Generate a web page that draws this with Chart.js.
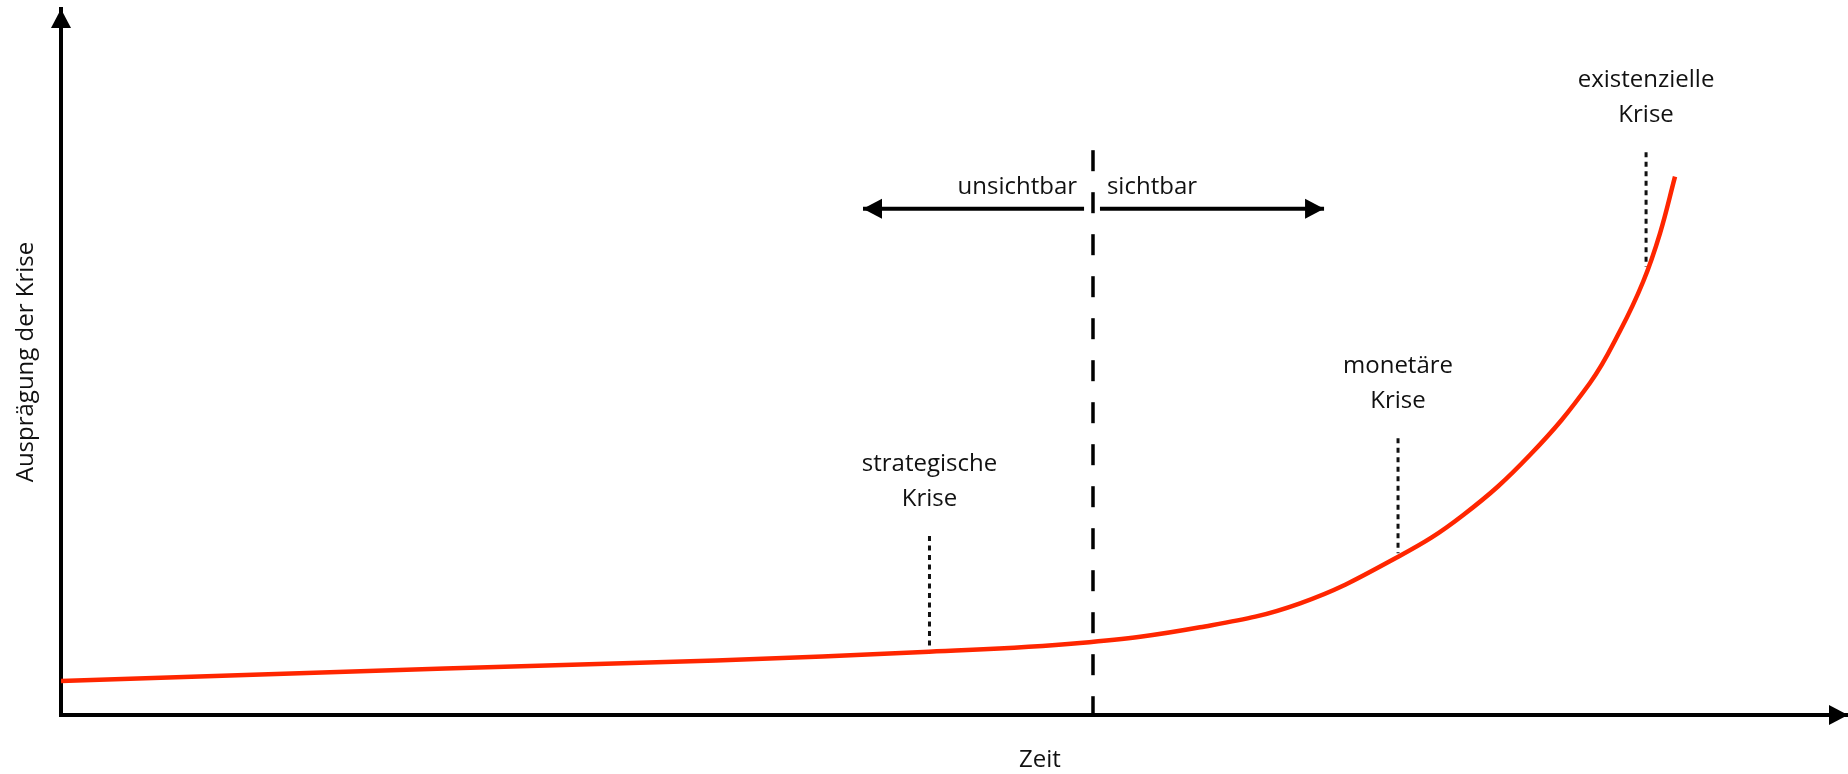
<!DOCTYPE html>
<html>
<head>
<meta charset="utf-8">
<script src="https://cdn.jsdelivr.net/npm/chart.js@4.4.1/dist/chart.umd.min.js"></script>
<style>
  html, body { margin: 0; padding: 0; background: #fff; }
  #wrap { width: 1848px; height: 774px; }
</style>
</head>
<body>
<div id="wrap"><canvas id="krisenChart"></canvas></div>
<script>
// Krisenverlauf (x: Zeit, y: Ausprägung), 0..100 auf beiden Achsen
const zeitWerte  = [0, 21.49, 36.65, 48.57, 57.02, 63.74, 69.34, 74.83, 78.47, 82.2, 85.56, 87.24, 88.54, 89.48, 90.32];
const kriseWerte = [4.82, 6.59, 7.72, 8.95, 10.2, 12.42, 15.82, 22.42, 28.33, 36.83, 47.03, 54.39, 61.4, 68.23, 76.25];

// Krisenarten mit gepunkteter Markierung
const phasenNamen = [["strategische", "Krise"], ["monetäre", "Krise"], ["existenzielle", "Krise"]];
const phasenX     = [48.6, 74.82, 88.7];
const phasenVon   = [9.35, 22.9, 63.5];
const phasenBis   = [25.35, 39.2, 79.7];
const phasenTextY = [34.63, 48.51, 88.9];

// Grenze zwischen unsichtbar / sichtbar
const grenzeX = 57.75;
const grenzeBis = 80;
const pfeilY = 71.7;
const pfeilLinks  = [44.88, 57.25];
const pfeilRechts = [58.14, 70.68];
const grenzeText = ["unsichtbar", "sichtbar"];
const grenzeTextX = [56.86, 58.53];
const grenzeTextY = 73.82;

const zeitTitelX = 54.78;

const schrift = '"Open Sans", "DejaVu Sans", sans-serif';
const rot = '#ff2600';

function spitze(ctx, x, y, winkel) {
  ctx.save();
  ctx.translate(x, y);
  ctx.rotate(winkel);
  ctx.beginPath();
  ctx.moveTo(0, 0);
  ctx.lineTo(-19, -10);
  ctx.lineTo(-19, 10);
  ctx.closePath();
  ctx.fill();
  ctx.restore();
}

const dekoPlugin = {
  id: 'krisenDeko',
  afterDraw(chart) {
    const ctx = chart.ctx;
    const xs = chart.scales.x, ys = chart.scales.y;
    const area = chart.chartArea;
    ctx.save();
    ctx.fillStyle = '#000';
    // Achsenpfeile
    spitze(ctx, area.left, area.top, -Math.PI / 2);
    spitze(ctx, area.right, area.bottom, 0);
    // Pfeile unsichtbar / sichtbar
    chart.data.datasets.forEach((ds, i) => {
      const pts = chart.getDatasetMeta(i).data;
      if (ds.pfeilAnfang) spitze(ctx, pts[0].x, pts[0].y, Math.PI);
      if (ds.pfeilEnde) spitze(ctx, pts[pts.length - 1].x, pts[pts.length - 1].y, 0);
    });
    // Beschriftungen
    ctx.fillStyle = '#111';
    ctx.font = '24px ' + schrift;
    ctx.textBaseline = 'alphabetic';
    ctx.textAlign = 'center';
    phasenNamen.forEach((zeilen, i) => {
      const px = xs.getPixelForValue(phasenX[i]);
      const py = ys.getPixelForValue(phasenTextY[i]);
      zeilen.forEach((z, j) => ctx.fillText(z, px, py + j * 35));
    });
    ctx.textAlign = 'right';
    ctx.fillText(grenzeText[0], xs.getPixelForValue(grenzeTextX[0]), ys.getPixelForValue(grenzeTextY));
    ctx.textAlign = 'left';
    ctx.fillText(grenzeText[1], xs.getPixelForValue(grenzeTextX[1]), ys.getPixelForValue(grenzeTextY));
    ctx.textAlign = 'center';
    ctx.fillText('Zeit', xs.getPixelForValue(zeitTitelX), area.bottom + 52);
    ctx.restore();
  }
};

const linie = (pts, extra) => Object.assign({
  data: pts,
  borderColor: '#000',
  pointRadius: 0,
  fill: false
}, extra);

const datasets = [
  linie(zeitWerte.map((x, i) => ({ x, y: kriseWerte[i] })), {
    label: 'Krisenverlauf', borderColor: rot, borderWidth: 4.5, tension: 0.4
  }),
  linie([{ x: grenzeX, y: grenzeBis }, { x: grenzeX, y: 0 }], { borderWidth: 3.5, borderDash: [21, 21] }),
  ...phasenX.map((x, i) => linie([{ x, y: phasenBis[i] }, { x, y: phasenVon[i] }], {
    borderColor: '#111', borderWidth: 3, borderDash: [5, 4.5]
  })),
  linie([{ x: pfeilLinks[0], y: pfeilY }, { x: pfeilLinks[1], y: pfeilY }], { borderWidth: 4, pfeilAnfang: true }),
  linie([{ x: pfeilRechts[0], y: pfeilY }, { x: pfeilRechts[1], y: pfeilY }], { borderWidth: 4, pfeilEnde: true })
];

new Chart(document.getElementById('krisenChart'), {
  type: 'line',
  data: { datasets },
  options: {
    responsive: true,
    maintainAspectRatio: false,
    animation: false,
    layout: { padding: { left: 12, top: 9, right: 0, bottom: 2 } },
    plugins: { legend: { display: false }, tooltip: { enabled: false } },
    scales: {
      x: {
        type: 'linear', min: 0, max: 100,
        grid: { display: false },
        ticks: { display: false },
        border: { display: true, color: '#000', width: 4 },
        afterFit: s => { s.height = 57; }
      },
      y: {
        type: 'linear', min: 0, max: 100,
        grid: { display: false },
        ticks: { display: false },
        border: { display: true, color: '#000', width: 4 },
        title: {
          display: true, text: 'Ausprägung der Krise', color: '#111',
          font: { family: schrift, size: 24 }, padding: 0
        },
        afterFit: s => { s.width = 49; }
      }
    }
  },
  plugins: [dekoPlugin]
});
</script>
</body>
</html>
